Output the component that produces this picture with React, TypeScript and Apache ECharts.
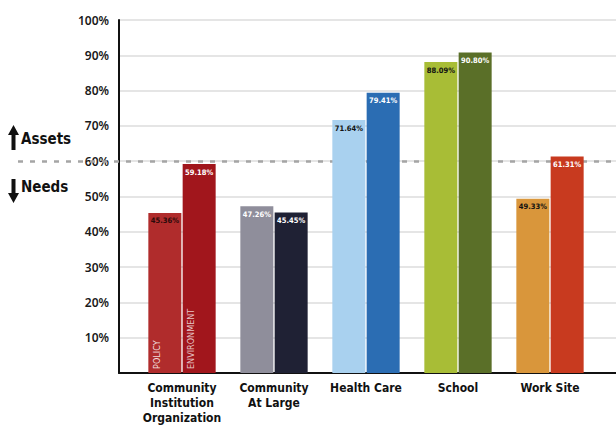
import React, { useEffect, useRef } from "react";
import * as echarts from "echarts";

const categories = [
  "Community\nInstitution\nOrganization",
  "Community\nAt Large",
  "Health Care",
  "School",
  "Work Site",
];
const firstValues = [45.36, 47.26, 71.64, 88.09, 49.33];
const secondValues = [59.18, 45.45, 79.41, 90.8, 61.31];
const firstColors = ["#b02c2c", "#8f8e9b", "#a9d1ef", "#a8bd36", "#d9963b"];
const secondColors = ["#a1161c", "#1f2134", "#2b6db3", "#5a6f28", "#c83a1f"];
const firstLabelColors = ["#2a0a0a", "#ffffff", "#111111", "#111111", "#111111"];
const secondLabelColors = ["#ffffff", "#ffffff", "#ffffff", "#ffffff", "#ffffff"];
const yTicks = [0, 10, 20, 30, 40, 50, 60, 70, 80, 90, 100];
const thresholdValue = 60;

const condensed = "'DejaVu Sans Condensed', 'Liberation Sans Narrow', 'Roboto', sans-serif";

export default function App() {
  const ref = useRef<HTMLDivElement>(null);
  useEffect(() => {
    if (!ref.current) return;
    const chart = echarts.init(ref.current, undefined, { renderer: "svg" });
    const top = 20;
    const bottom = 59;
    const yMax = yTicks[yTicks.length - 1];
    const barLabel = {
      show: true,
      position: "insideTop",
      distance: 4,
      fontSize: 7.5,
      fontWeight: "bold",
      fontFamily: condensed,
      formatter: (p: any) => p.value.toFixed(2) + "%",
    };
    const option: any = {
      animation: false,
      backgroundColor: "#ffffff",
      grid: [
        { left: 119, right: 0, top, bottom },
        { left: 136, right: 20, top, bottom },
        { left: 18, right: 0, top, bottom },
      ],
      xAxis: [
        {
          type: "value",
          gridIndex: 0,
          min: 0,
          max: 1,
          axisLine: { show: true, onZero: false, lineStyle: { color: "#111", width: 2 } },
          axisTick: { show: false },
          axisLabel: { show: false },
          splitLine: { show: false },
        },
        {
          type: "category",
          gridIndex: 1,
          data: categories,
          axisLine: { show: false },
          axisTick: { show: false },
          axisLabel: {
            color: "#111",
            fontFamily: condensed,
            fontWeight: "bold",
            fontSize: 12,
            lineHeight: 15,
            margin: 7,
            interval: 0,
          },
        },
        { type: "value", gridIndex: 2, min: 0, max: 1, show: false },
      ],
      yAxis: [
        {
          type: "value",
          gridIndex: 0,
          min: 0,
          max: yMax,
          interval: 10,
          axisLine: { show: true, lineStyle: { color: "#111", width: 2 } },
          axisTick: { show: false },
          axisLabel: {
            color: "#1a1a1a",
            fontFamily: "'Noto Sans', sans-serif",
            fontWeight: 600,
            fontSize: 12,
            margin: 10,
            formatter: (v: number) => (v === 0 ? "" : v + "%"),
          },
          splitLine: { show: true, lineStyle: { color: "#dcdcdc", width: 1.5 } },
        },
        { type: "value", gridIndex: 1, min: 0, max: yMax, show: false },
        { type: "value", gridIndex: 2, min: 0, max: yMax, show: false },
      ],
      series: [
        {
          type: "line",
          xAxisIndex: 2,
          yAxisIndex: 2,
          data: [],
          z: 1,
          silent: true,
          markLine: {
            z: 1,
            silent: true,
            symbol: "none",
            label: { show: false },
            lineStyle: { color: "#a5a5a5", type: [5, 7], width: 2.5 },
            data: [{ yAxis: thresholdValue }],
          },
        },
        {
          type: "bar",
          xAxisIndex: 1,
          yAxisIndex: 1,
          barWidth: 33,
          barGap: "4%",
          z: 3,
          data: firstValues.map((v, i) => ({
            value: v,
            itemStyle: { color: firstColors[i] },
            label: { color: firstLabelColors[i] },
          })),
          label: barLabel,
          markPoint: {
            symbol: "circle",
            symbolSize: 0,
            silent: true,
            data: [
              {
                coord: [categories[0], 0],
                label: {
                  show: true,
                  formatter: "POLICY",
                  rotate: 90,
                  align: "left",
                  verticalAlign: "middle",
                  position: "inside",
                  offset: [4, -8],
                  color: "rgba(255,255,255,0.85)",
                  fontSize: 9,
                  fontFamily: condensed,
                },
              },
            ],
          },
        },
        {
          type: "bar",
          xAxisIndex: 1,
          yAxisIndex: 1,
          barWidth: 33,
          barGap: "4%",
          z: 3,
          data: secondValues.map((v, i) => ({
            value: v,
            itemStyle: { color: secondColors[i] },
            label: { color: secondLabelColors[i] },
          })),
          label: barLabel,
          markPoint: {
            symbol: "circle",
            symbolSize: 0,
            silent: true,
            data: [
              {
                coord: [categories[0], 0],
                label: {
                  show: true,
                  formatter: "ENVIRONMENT",
                  rotate: 90,
                  align: "left",
                  verticalAlign: "middle",
                  position: "inside",
                  offset: [4, -8],
                  color: "rgba(255,255,255,0.75)",
                  fontSize: 9,
                  fontFamily: condensed,
                },
              },
            ],
          },
        },
      ],
      graphic: [
        {
          type: "polygon",
          shape: { points: [[8, 135], [13.5, 125], [19, 135], [15.5, 135], [15.5, 150], [11.5, 150], [11.5, 135]] },
          style: { fill: "#111" },
        },
        {
          type: "text",
          left: 21,
          top: 131,
          style: { text: "Assets", fill: "#111", font: "bold 15px " + condensed },
        },
        {
          type: "polygon",
          shape: { points: [[11.5, 179], [15.5, 179], [15.5, 193], [19, 193], [13.5, 203], [8, 193], [11.5, 193]] },
          style: { fill: "#111" },
        },
        {
          type: "text",
          left: 21,
          top: 179,
          style: { text: "Needs", fill: "#111", font: "bold 15px " + condensed },
        },
      ],
    };
    chart.setOption(option);
    return () => chart.dispose();
  }, []);
  return <div ref={ref} style={{ width: 616, height: 432, position: "absolute", left: 0, top: 0 }} />;
}
